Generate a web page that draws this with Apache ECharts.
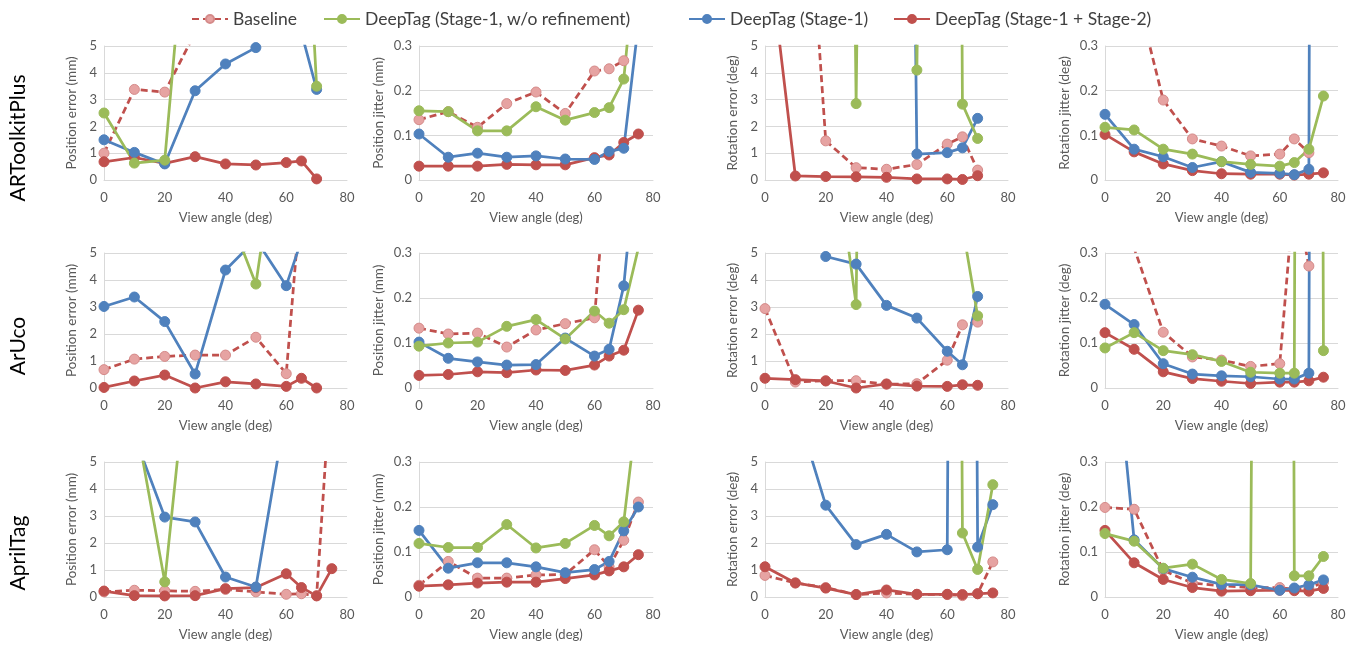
<!DOCTYPE html>
<html>
<head>
<meta charset="utf-8">
<script src="https://cdn.jsdelivr.net/npm/echarts@6/dist/echarts.min.js"></script>
<style>
html,body{margin:0;padding:0;background:#fff;}
#chart{width:1357px;height:652px;}
</style>
</head>
<body>
<div id="chart"></div>
<script>
// ---------- DATA ----------
const angles = [0, 10, 20, 30, 40, 50, 60, 65, 70, 75];
const seriesNames = ['Baseline', 'DeepTag (Stage-1, w/o refinement)', 'DeepTag (Stage-1)', 'DeepTag (Stage-1 + Stage-2)'];
const rowLabels = ['ARToolkitPlus', 'ArUco', 'AprilTag'];
const colTitles = ['Position error (mm)', 'Position jitter (mm)', 'Rotation error (deg)', 'Rotation jitter (deg)'];
const xTitle = 'View angle (deg)';

// ARToolkitPlus - position error (values above 5 run off the chart)
const artPosErrBaseline = [1.0, 3.38, 3.28, 5.5, 30, 30, 30, 30, 30, null];
const artPosErrNoRef    = [2.5, 0.63, 0.74, 13.6, 30, 30, 30, 14, 3.5, null];
const artPosErrS1       = [1.5, 1.03, 0.6, 3.33, 4.33, 4.94, 10, 5.5, 3.38, null];
const artPosErrS12      = [0.68, 0.84, 0.62, 0.87, 0.6, 0.56, 0.65, 0.71, 0.04, null];
// ARToolkitPlus - position jitter
const artPosJitBaseline = [0.135, 0.153, 0.118, 0.171, 0.197, 0.149, 0.244, 0.249, 0.267, null];
const artPosJitNoRef    = [0.155, 0.153, 0.110, 0.110, 0.164, 0.134, 0.151, 0.162, 0.226, 0.56];
const artPosJitS1       = [0.103, 0.051, 0.060, 0.051, 0.054, 0.047, 0.046, 0.064, 0.071, 0.35];
const artPosJitS12      = [0.031, 0.031, 0.031, 0.035, 0.034, 0.034, 0.050, 0.056, 0.084, 0.103];
// ARToolkitPlus - rotation error
const artRotErrBaseline = [20, 18, 1.46, 0.46, 0.4, 0.58, 1.34, 1.61, 0.37, null];
const artRotErrNoRef    = [100, 100, 100, 2.85, 100, 4.1, 100, 2.83, 1.55, null];
const artRotErrS1       = [100, 100, 100, 100, 100, 0.97, 1.02, 1.2, 2.3, null];
const artRotErrS12      = [9.7, 0.15, 0.13, 0.12, 0.1, 0.04, 0.04, 0.02, 0.16, null];
// ARToolkitPlus - rotation jitter
const artRotJitBaseline = [0.6, 0.44, 0.179, 0.092, 0.076, 0.054, 0.058, 0.092, 0.061, null];
const artRotJitNoRef    = [0.118, 0.112, 0.069, 0.058, 0.041, 0.035, 0.031, 0.039, 0.069, 0.188];
const artRotJitS1       = [0.147, 0.069, 0.052, 0.028, 0.041, 0.017, 0.015, 0.012, 0.024, 10];
const artRotJitS12      = [0.102, 0.063, 0.036, 0.021, 0.014, 0.013, 0.013, 0.011, 0.013, 0.016];

// ArUco - position error
const arucoPosErrBaseline = [0.68, 1.07, 1.17, 1.22, 1.22, 1.88, 0.53, 7.3, 30, null];
const arucoPosErrNoRef    = [30, 30, 30, 30, 6.75, 3.85, 11.5, 30, 30, null];
const arucoPosErrS1       = [3.02, 3.37, 2.46, 0.52, 4.37, 5.5, 3.79, 5.47, 30, null];
const arucoPosErrS12      = [0.02, 0.26, 0.48, 0.0, 0.23, 0.15, 0.06, 0.36, 0.0, null];
// ArUco - position jitter
const arucoPosJitBaseline = [0.133, 0.120, 0.122, 0.091, 0.129, 0.143, 0.156, 0.56, 3, null];
const arucoPosJitNoRef    = [0.093, 0.100, 0.102, 0.137, 0.152, 0.109, 0.171, 0.144, 0.174, 0.311];
const arucoPosJitS1       = [0.102, 0.066, 0.058, 0.051, 0.052, 0.111, 0.071, 0.086, 0.227, 0.56];
const arucoPosJitS12      = [0.028, 0.030, 0.036, 0.034, 0.040, 0.039, 0.051, 0.071, 0.084, 0.173];
// ArUco - rotation error
const arucoRotErrBaseline = [2.94, 0.22, 0.27, 0.27, 0.14, 0.16, 1.03, 2.34, 2.44, null];
const arucoRotErrNoRef    = [100, 100, 11.4, 3.09, 100, 100, 100, 6.0, 2.67, null];
const arucoRotErrS1       = [100, 100, 4.87, 4.59, 3.06, 2.59, 1.36, 0.86, 3.39, null];
const arucoRotErrS12      = [0.36, 0.31, 0.26, 0.0, 0.15, 0.07, 0.06, 0.12, 0.1, null];
// ArUco - rotation jitter
const arucoRotJitBaseline = [0.5, 0.311, 0.124, 0.069, 0.062, 0.048, 0.054, 0.44, 0.271, null];
const arucoRotJitNoRef    = [0.089, 0.123, 0.083, 0.074, 0.059, 0.035, 0.033, 0.033, 10, 0.083];
const arucoRotJitS1       = [0.186, 0.141, 0.054, 0.031, 0.027, 0.025, 0.020, 0.020, 0.033, 10];
const arucoRotJitS12      = [0.123, 0.086, 0.036, 0.021, 0.015, 0.010, 0.013, 0.013, 0.016, 0.024];

// AprilTag - position error
const aprilPosErrBaseline = [0.19, 0.25, 0.23, 0.21, 0.28, 0.19, 0.1, 0.12, 0.05, 8.6];
const aprilPosErrNoRef    = [30, 6.8, 0.56, 11.4, 30, 30, 30, 30, 30, 30];
const aprilPosErrS1       = [30, 5.96, 2.96, 2.78, 0.74, 0.37, 6.98, 30, 30, 30];
const aprilPosErrS12      = [0.22, 0.05, 0.04, 0.05, 0.31, 0.35, 0.86, 0.35, 0.04, 1.05];
// AprilTag - position jitter
const aprilPosJitBaseline = [0.026, 0.079, 0.042, 0.042, 0.049, 0.050, 0.105, 0.067, 0.126, 0.211];
const aprilPosJitNoRef    = [0.119, 0.110, 0.110, 0.161, 0.109, 0.119, 0.159, 0.136, 0.167, 0.44];
const aprilPosJitS1       = [0.148, 0.064, 0.076, 0.076, 0.067, 0.054, 0.061, 0.079, 0.147, 0.200];
const aprilPosJitS12      = [0.024, 0.027, 0.031, 0.033, 0.033, 0.041, 0.049, 0.058, 0.067, 0.094];
// AprilTag - rotation error
const aprilRotErrBaseline = [0.8, 0.52, 0.35, 0.09, 0.15, 0.1, 0.09, 0.05, 0.12, 1.3];
const aprilRotErrNoRef    = [100, 100, 100, 100, 100, 100, 100, 2.37, 1.02, 4.16];
const aprilRotErrS1       = [30, 7.1, 3.4, 1.94, 2.32, 1.67, 1.75, 100, 1.85, 3.42];
const aprilRotErrS12      = [1.12, 0.52, 0.33, 0.09, 0.26, 0.1, 0.1, 0.09, 0.12, 0.15];
// AprilTag - rotation jitter
const aprilRotJitBaseline = [0.199, 0.195, 0.059, 0.031, 0.025, 0.021, 0.021, 0.017, 0.019, 0.033];
const aprilRotJitNoRef    = [0.141, 0.124, 0.064, 0.073, 0.039, 0.030, 10, 0.047, 0.047, 0.090];
const aprilRotJitS1       = [0.79, 0.127, 0.063, 0.044, 0.028, 0.027, 0.015, 0.020, 0.027, 0.038];
const aprilRotJitS12      = [0.148, 0.076, 0.039, 0.021, 0.013, 0.014, 0.015, 0.014, 0.013, 0.019];

const errTicks = [0, 1, 2, 3, 4, 5];
const jitTicks = [0, 0.1, 0.2, 0.3];
const xTicks = [0, 20, 40, 60, 80];

// ---------- LAYOUT / STYLE ----------
const colLeft = [104, 419, 765, 1105];
const colWidth = [243, 234, 243, 233];
const rowTop = [46, 253, 462];
const rowHeight = [134, 135, 135];
const rowLabelY = [138, 346, 553];

const panels = [
  [artPosErrBaseline, artPosErrNoRef, artPosErrS1, artPosErrS12],
  [artPosJitBaseline, artPosJitNoRef, artPosJitS1, artPosJitS12],
  [artRotErrBaseline, artRotErrNoRef, artRotErrS1, artRotErrS12],
  [artRotJitBaseline, artRotJitNoRef, artRotJitS1, artRotJitS12],
  [arucoPosErrBaseline, arucoPosErrNoRef, arucoPosErrS1, arucoPosErrS12],
  [arucoPosJitBaseline, arucoPosJitNoRef, arucoPosJitS1, arucoPosJitS12],
  [arucoRotErrBaseline, arucoRotErrNoRef, arucoRotErrS1, arucoRotErrS12],
  [arucoRotJitBaseline, arucoRotJitNoRef, arucoRotJitS1, arucoRotJitS12],
  [aprilPosErrBaseline, aprilPosErrNoRef, aprilPosErrS1, aprilPosErrS12],
  [aprilPosJitBaseline, aprilPosJitNoRef, aprilPosJitS1, aprilPosJitS12],
  [aprilRotErrBaseline, aprilRotErrNoRef, aprilRotErrS1, aprilRotErrS12],
  [aprilRotJitBaseline, aprilRotJitNoRef, aprilRotJitS1, aprilRotJitS12]
];

const FONT = 'Lato';
const TXT = '#595959';
const GRIDC = '#D9D9D9';
const colors = {
  base: '#C0504D', baseFill: '#E6A3A2', baseBorder: '#D58B8A',
  green: '#9BBB59', blue: '#4F81BD', red: '#C0504D'
};
const LW = 2.75, SS = 10;

function styleFor(k) {
  // k: 0 baseline, 1 no-ref (green), 2 stage1 (blue), 3 stage1+2 (red)
  if (k === 0) return {
    lineStyle: { color: colors.base, width: LW, type: [7, 4] },
    itemStyle: { color: colors.baseFill, borderColor: colors.baseBorder, borderWidth: 1 }
  };
  const c = [null, colors.green, colors.blue, colors.red][k];
  return { lineStyle: { color: c, width: LW }, itemStyle: { color: c, borderColor: c, borderWidth: 1 } };
}

const grids = [], xAxes = [], yAxes = [], series = [];
panels.forEach((p, i) => {
  const r = Math.floor(i / 4), c = i % 4;
  const isJit = (c % 2) === 1;
  const ticks = isJit ? jitTicks : errTicks;
  grids.push({ left: colLeft[c], top: rowTop[r], width: colWidth[c], height: rowHeight[r], containLabel: false });
  xAxes.push({
    type: 'value', gridIndex: i, min: xTicks[0], max: xTicks[xTicks.length - 1], interval: xTicks[1] - xTicks[0],
    axisLine: { show: true, lineStyle: { color: GRIDC, width: 1 } },
    axisTick: { show: false }, splitLine: { show: false },
    axisLabel: { color: TXT, fontSize: 13, fontFamily: FONT, margin: 11 },
    name: xTitle, nameLocation: 'middle', nameGap: 31,
    nameTextStyle: { color: TXT, fontSize: 13, fontFamily: FONT }
  });
  yAxes.push({
    type: 'value', gridIndex: i, min: ticks[0], max: ticks[ticks.length - 1], interval: ticks[1] - ticks[0],
    axisLine: { show: true, lineStyle: { color: GRIDC, width: 1 } },
    axisTick: { show: false },
    splitLine: { show: true, lineStyle: { color: GRIDC, width: 1 } },
    axisLabel: { color: TXT, fontSize: 13, fontFamily: FONT, margin: 7,
      formatter: v => isJit ? (v === 0 ? '0' : v.toFixed(1)) : String(v) },
    name: colTitles[c], nameLocation: 'middle', nameGap: isJit ? 33 : 25,
    nameTextStyle: { color: TXT, fontSize: 13.5, fontFamily: FONT }
  });
  // drawing order: baseline, stage1+2, stage1, w/o refinement (top)
  [0, 3, 2, 1].forEach(k => {
    const st = styleFor(k);
    series.push({
      type: 'line', name: seriesNames[k], xAxisIndex: i, yAxisIndex: i,
      data: angles.map((a, j) => [a, p[k][j]]),
      symbol: 'circle', symbolSize: SS, showAllSymbol: true,
      clip: true, connectNulls: false, animation: false,
      lineStyle: st.lineStyle, itemStyle: st.itemStyle,
      emphasis: { disabled: true }
    });
  });
});

const legendLeft = [186, 318, 683, 888];
const legends = seriesNames.map((n, k) => ({
  left: legendLeft[k], top: 5, data: [n], itemWidth: 36, itemHeight: 10, itemGap: 0,
  textStyle: { color: '#404040', fontSize: 17.5, fontFamily: FONT }, selectedMode: false
}));

const graphics = rowLabels.map((t, r) => ({
  type: 'text', x: 18, y: rowLabelY[r], rotation: Math.PI / 2,
  style: { text: t, fill: '#000', font: '21px ' + FONT, textAlign: 'center', textVerticalAlign: 'middle' }
}));

const chart = echarts.init(document.getElementById('chart'), null, { renderer: 'canvas' });
chart.setOption({
  animation: false,
  backgroundColor: '#fff',
  grid: grids, xAxis: xAxes, yAxis: yAxes, series: series,
  legend: legends, graphic: graphics
});
</script>
</body>
</html>
